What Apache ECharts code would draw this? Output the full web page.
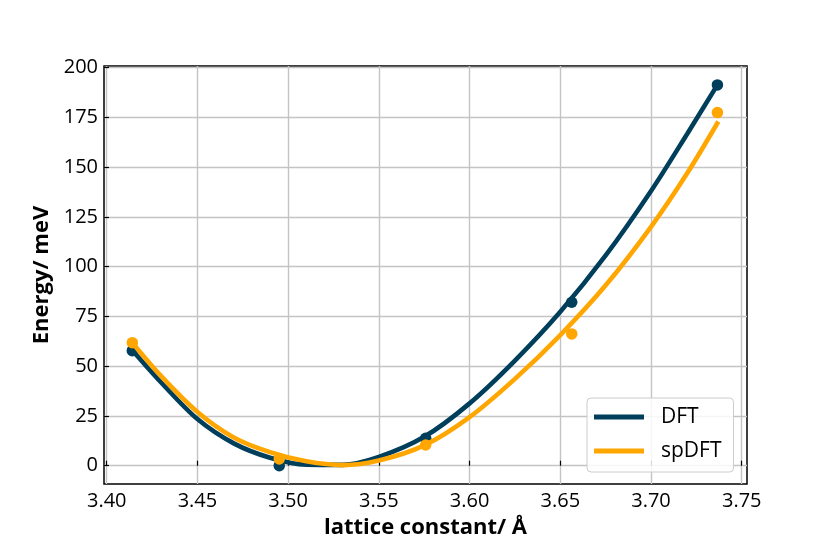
<!DOCTYPE html>
<html>
<head>
<meta charset="utf-8">
<script src="https://cdn.jsdelivr.net/npm/echarts@6/dist/echarts.min.js"></script>
<style>
html,body{margin:0;padding:0;background:#fff;}
#chart{width:830px;height:554px;}
</style>
</head>
<body>
<div id="chart"></div>
<script>
// Measured points
const dftX = [3.4141, 3.4951, 3.5758, 3.6563, 3.7366];
const dftE = [57.8, 0.0, 13.8, 82.1, 191.3];
const spX = [3.4141, 3.4951, 3.5758, 3.6563, 3.7366];
const spE = [61.8, 3.4, 10.4, 66.2, 177.4];

// Fitted curves
const dftFitX = [3.4141, 3.43, 3.45, 3.47, 3.49, 3.51, 3.53, 3.55, 3.575, 3.60, 3.625, 3.65, 3.675, 3.70, 3.72, 3.7366];
const dftFitE = [58.0, 41.8, 23.4, 11.2, 4.0, 0.5, 0.4, 4.4, 14.5, 31.3, 52.8, 77.3, 105.6, 138.0, 166.8, 191.3];
const spFitX = [3.4141, 3.43, 3.45, 3.47, 3.49, 3.51, 3.53, 3.55, 3.575, 3.60, 3.625, 3.65, 3.675, 3.70, 3.72, 3.7371];
const spFitE = [61.8, 45.0, 27.0, 14.2, 6.8, 2.2, 0.3, 2.6, 10.2, 24.4, 43.6, 65.6, 90.6, 120.0, 147.0, 172.9];

// Tick labels
const xTicks = [3.40, 3.45, 3.50, 3.55, 3.60, 3.65, 3.70, 3.75];
const yTicks = [0, 25, 50, 75, 100, 125, 150, 175, 200];

const cDFT = '#003f5c';
const cSP = '#ffa600';
const FONT = 'Open Sans';

const pairs = (xs, ys) => xs.map((x, i) => [x, ys[i]]);

const chart = echarts.init(document.getElementById('chart'), null, {renderer: 'canvas'});
chart.setOption({
  animation: false,
  backgroundColor: '#fff',
  textStyle: {fontFamily: FONT},
  grid: {
    left: 104, right: 83, top: 66, bottom: 70,
    show: true, borderColor: '#000', borderWidth: 1.5, backgroundColor: 'transparent'
  },
  xAxis: {
    type: 'value',
    min: 3.3985, max: 3.7529,
    name: 'lattice constant/ Å',
    nameLocation: 'middle',
    nameGap: 33,
    nameTextStyle: {fontFamily: FONT, fontWeight: 'bold', fontSize: 22, color: '#000'},
    axisLine: {show: false},
    axisTick: {show: true, inside: true, length: 5, lineStyle: {color: '#000', width: 1.2}, customValues: xTicks},
    axisLabel: {
      customValues: xTicks, margin: 7, fontSize: 20, color: '#000', fontFamily: FONT,
      formatter: v => Number(v).toFixed(2)
    },
    splitLine: {show: true, lineStyle: {color: '#c4c4c4', width: 1.4}}
  },
  yAxis: {
    type: 'value',
    min: -9.2, max: 200.8,
    name: 'Energy/ meV',
    nameLocation: 'middle',
    nameGap: 48,
    nameRotate: 90,
    nameTextStyle: {fontFamily: FONT, fontWeight: 'bold', fontSize: 22, color: '#000'},
    axisLine: {show: false},
    axisTick: {show: true, inside: true, length: 5, lineStyle: {color: '#000', width: 1.2}, customValues: yTicks},
    axisLabel: {
      customValues: yTicks, margin: 6, fontSize: 20, color: '#000', fontFamily: FONT,
      formatter: v => String(Math.round(v))
    },
    splitLine: {show: true, lineStyle: {color: '#c4c4c4', width: 1.4}}
  },
  legend: {
    left: 587, top: 398,
    orient: 'vertical',
    data: [{name: 'DFT', icon: 'rect'}, {name: 'spDFT', icon: 'rect'}],
    itemWidth: 50, itemHeight: 5, itemGap: 8,
    padding: [6, 12, 8, 7],
    backgroundColor: 'rgba(255,255,255,0.85)',
    borderColor: '#cccccc', borderWidth: 1, borderRadius: 4,
    textStyle: {fontFamily: FONT, fontSize: 21, color: '#000', lineHeight: 26, padding: [0, 0, 0, 12]}
  },
  series: [
    {
      name: 'DFT', type: 'line', data: pairs(dftFitX, dftFitE),
      smooth: 0.3, showSymbol: false, symbol: 'none',
      lineStyle: {color: cDFT, width: 4.6, cap: 'butt'}, itemStyle: {color: cDFT}, z: 2
    },
    {
      name: 'DFT', type: 'scatter', data: pairs(dftX, dftE),
      symbolSize: 11.5, itemStyle: {color: cDFT, opacity: 1}, z: 3
    },
    {
      name: 'spDFT', type: 'line', data: pairs(spFitX, spFitE),
      smooth: 0.3, showSymbol: false, symbol: 'none',
      lineStyle: {color: cSP, width: 4.6, cap: 'butt'}, itemStyle: {color: cSP}, z: 4
    },
    {
      name: 'spDFT', type: 'scatter', data: pairs(spX, spE),
      symbolSize: 11.5, itemStyle: {color: cSP, opacity: 1}, z: 5
    }
  ]
});
</script>
</body>
</html>
